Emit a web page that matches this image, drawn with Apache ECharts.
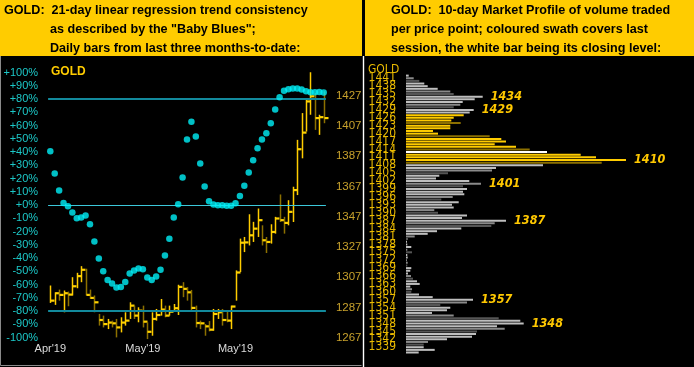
<!DOCTYPE html>
<html><head><meta charset="utf-8">
<script src="https://cdn.jsdelivr.net/npm/echarts@6/dist/echarts.min.js"></script>
<style>html,body{margin:0;padding:0;background:#000;}#c{width:694px;height:367px;}</style>
</head><body><div id="c"></div>
<script>
// ---- Left panel: 21-day linear regression trend consistency ("Baby Blues"), in %
const trendPct = [40.8, 23.9, 11.1, 1.7, -0.8, -5.5, -9.8, -9.3, -7.8, -14.3,
  -27.4, -40.2, -49.8, -56.4, -59.1, -62.1, -61.7, -57.9, -51.5, -49.3,
  -47.8, -48.3, -54.6, -56.4, -53.8, -48.8, -38, -25.4, -9.3, 0.8,
  20.9, 49.6, 62.9, 51.8, 31.5, 14.1, 3, 0.5, 0, 0,
  -0.5, -0.5, 1.5, 7, 14.6, 24.7, 34, 43, 49.6, 54.3,
  61.9, 72.2, 81.5, 86.3, 87.5, 88, 88, 87.3, 86, 85.3,
  85.3, 85.5, 85];
// ---- Left panel: daily gold bars (high / low / close)
const barHigh = [1301.5, 1297, 1298.8, 1298.2, 1297.5, 1307, 1309.9, 1314.3, 1312.6, 1298.8,
  1294.9, 1282.7, 1281.6, 1279.4, 1278.3, 1279.4, 1280.5, 1283.8, 1290.4, 1288.2,
  1287.1, 1288.2, 1277.2, 1283.8, 1286, 1292.6, 1288.2, 1288.2, 1289.3, 1302,
  1303.7, 1300.4, 1298.6, 1288.2, 1278.3, 1276, 1278, 1286, 1286, 1286,
  1284.9, 1288.2, 1311.5, 1332.5, 1333.6, 1348.6, 1343.6, 1352.4, 1341.3, 1333.6,
  1342, 1346.9, 1361.7, 1346.9, 1357.9, 1366.8, 1397.8, 1415.5, 1425.4, 1442.5,
  1428.8, 1414.4, 1429.9];
const barLow = [1290, 1288.7, 1291.5, 1283.8, 1287.8, 1294.9, 1299.7, 1303.7, 1294.9, 1292.6,
  1283.8, 1275, 1273.8, 1272.7, 1273.8, 1267.2, 1270.5, 1275, 1279.4, 1279.4,
  1277.2, 1273.8, 1266.1, 1268.3, 1278.3, 1281.6, 1280.5, 1281.6, 1284.9, 1282,
  1293.8, 1291.5, 1284.9, 1273.8, 1272.7, 1268.3, 1271.2, 1271.6, 1279.4, 1275,
  1277.2, 1272.7, 1291.5, 1310.4, 1323.6, 1328, 1330.3, 1333.6, 1328, 1323,
  1329.2, 1335.8, 1343.5, 1335.8, 1341.3, 1343.5, 1361.3, 1385.6, 1403.3, 1414.4,
  1404.4, 1401.1, 1408.8];
const barClose = [1291.5, 1296.4, 1295.3, 1296.4, 1295.5, 1301, 1307.7, 1311.9, 1295.3, 1293.3,
  1290.4, 1278.7, 1276, 1277, 1276.5, 1273.8, 1277, 1278.3, 1288.2, 1281.6,
  1284.9, 1277.6, 1270.9, 1279.4, 1282, 1285.6, 1281.6, 1284.2, 1286.5, 1300.6,
  1299.3, 1297, 1286.7, 1276.7, 1276.5, 1274.5, 1272.3, 1282.7, 1283.8, 1278.7,
  1278.3, 1287.6, 1310.1, 1329.8, 1330, 1334.7, 1339.1, 1344.7, 1331.4, 1330.3,
  1336.9, 1345.8, 1344.7, 1342.9, 1350.2, 1364.6, 1391.6, 1402.6, 1423.2, 1426.6,
  1412.2, 1412.8, 1412.2];
const xTickIndex = [0, 21, 42];
const xTickLabels = ["Apr'19", "May'19", "May'19"];
const priceAxisMin = 1267, priceAxisStep = 20, priceAxisMax = 1442.2;

// ---- Right panel: 10-day market profile (volume per price point)
const profilePrices = [1442, 1441, 1440, 1439, 1438, 1437, 1436, 1435, 1434, 1433,
  1432, 1431, 1430, 1429, 1428, 1427, 1426, 1425, 1424, 1423,
  1422, 1421, 1420, 1419, 1418, 1417, 1416, 1415, 1414, 1413,
  1412, 1411, 1410, 1409, 1408, 1407, 1406, 1405, 1404, 1403,
  1402, 1401, 1400, 1399, 1398, 1397, 1396, 1395, 1394, 1393,
  1392, 1391, 1390, 1389, 1388, 1387, 1386, 1385, 1384, 1383,
  1382, 1381, 1380, 1379, 1378, 1377, 1376, 1375, 1374, 1373,
  1372, 1371, 1370, 1369, 1368, 1367, 1366, 1365, 1364, 1363,
  1362, 1361, 1360, 1359, 1358, 1357, 1356, 1355, 1354, 1353,
  1352, 1351, 1350, 1349, 1348, 1347, 1346, 1345, 1344, 1343,
  1342, 1341, 1340, 1339, 1338, 1337];
const profileVolume = [2.7, 7.7, 13.3, 18.3, 21.7, 31.7, 44.3, 47.7, 76.7, 68.7,
  56.7, 54.3, 47.7, 67.7, 63.7, 57.7, 47.7, 45.3, 54.7, 44.3,
  44.3, 27, 32, 83.7, 95.3, 100, 88.7, 110, 123.7, 141,
  174.7, 190, 220, 195.7, 137, 90, 86, 42, 33.3, 30,
  63.3, 75, 57, 61, 57, 58.3, 46.7, 35.3, 52.7, 46,
  47.7, 28.3, 32, 61, 56, 100, 88.7, 85.3, 55.3, 31,
  21.7, 8.7, 2, 1, 1.3, 5.3, 1.3, 6, 1.3, 1.7,
  0.7, 1.7, 1.3, 5.3, 4.3, 2, 5, 7, 11, 13.7,
  4.3, 6, 5.3, 13, 26.7, 67, 61, 34.3, 44.3, 41,
  26, 47.7, 92.7, 114.3, 117.7, 91, 98.7, 71, 70, 66,
  41, 22, 17.7, 17.7, 28.7, 12.7];
const profileLabelTop = 1441, profileLabelStep = 3;
const profileCallouts = [1434, 1429, 1410, 1401, 1387, 1357, 1348];
const swathHigh = 1427, swathLow = 1409, closingLevel = 1413;

// ---- build
const chart = echarts.init(document.getElementById('c'), null, {renderer: 'canvas'});
const ohlcRows = barHigh.map((h, i) => [i, h, barLow[i], barClose[i], i === 0 ? 1 : (barClose[i] >= barClose[i - 1] ? 1 : -1)]);
const narrow = "'Liberation Sans Narrow', 'DejaVu Sans Condensed', 'Liberation Sans', sans-serif";
const arial = "'Liberation Sans', Arial, sans-serif";
const tickShadow = {textShadowColor: '#5A4600', textShadowOffsetX: -1, textShadowOffsetY: 1, textShadowBlur: 0};

function profileColor(p) {
  if (p === closingLevel) return '#FFFFFF';
  if (p <= swathHigh && p >= swathLow) return (p % 5 === 4) ? '#8C7000' : '#FFCC00';
  const m = p % 5;
  if (m === 0) return '#555555';
  if (m === 1) return '#8A8A8A';
  return '#BEBEBE';
}
const lowestPrice = profilePrices[profilePrices.length - 1];
const isPriceTick = p => p <= profileLabelTop && p >= lowestPrice && (profileLabelTop - p) % profileLabelStep === 0;
const profileData = profilePrices.map((p, i) => {
  const item = {value: profileVolume[i], itemStyle: {color: profileColor(p)}};
  if (profileCallouts.includes(p)) {
    item.label = Object.assign({show: true, position: 'right', distance: 8, formatter: String(p),
      color: '#FFC800', fontStyle: 'italic', fontWeight: 'bold', fontSize: 12.5, fontFamily: narrow}, tickShadow);
  }
  return item;
});
// price tick labels of the profile axis, carried by zero-length bars at the axis edge
const profileTickData = profilePrices.map(p => isPriceTick(p) ? {value: 0, name: String(p)} : null);

const titleFont = 'bold 12.6px ' + arial;
const txt = (text, x, y, font, fill, extra) => ({type: 'text', silent: true,
  style: Object.assign({text, x, y, font, fill, verticalAlign: 'middle', textVerticalAlign: 'middle'}, extra || {})});
const option = {
  backgroundColor: '#000000',
  animation: false,
  grid: [
    {left: 48.1, top: 72.7, width: 277.8, height: 265},
    {left: 406, top: 74.3, width: 280, height: profilePrices.length * 2.637}
  ],
  xAxis: [
    {type: 'category', gridIndex: 0, data: trendPct.map((v, i) => String(i + 1)), boundaryGap: true,
      axisLine: {show: false}, axisTick: {show: false}, splitLine: {show: false},
      axisLabel: {interval: (idx) => xTickIndex.includes(idx),
        formatter: (v, idx) => { const k = xTickIndex.indexOf(idx); return k >= 0 ? xTickLabels[k] : ''; },
        color: '#DCDCDC', fontSize: 11, fontFamily: arial, margin: 6}},
    {type: 'value', gridIndex: 1, min: 0, max: 280, show: false}
  ],
  yAxis: [
    {type: 'value', gridIndex: 0, min: -100, max: 100, interval: 10, position: 'left',
      axisLine: {show: false}, axisTick: {show: false}, splitLine: {show: false},
      axisLabel: {formatter: v => (v >= 0 ? '+' : '') + v + '%', color: '#1CC8C8', fontSize: 11, fontFamily: arial, margin: 10}},
    {type: 'value', gridIndex: 0, min: priceAxisMin, max: priceAxisMax, interval: priceAxisStep, position: 'right',
      axisLine: {show: false}, axisTick: {show: false}, splitLine: {show: false},
      axisLabel: {showMaxLabel: false, formatter: v => String(Math.round(v)), color: '#C8A22C', fontSize: 11.5, fontFamily: arial, margin: 10}},
    {type: 'category', gridIndex: 1, data: profilePrices.map(String), inverse: true,
      axisLine: {show: false}, axisTick: {show: false}, splitLine: {show: false}, axisLabel: {show: false}}
  ],
  series: [
    {type: 'custom', xAxisIndex: 0, yAxisIndex: 1, data: ohlcRows, encode: {x: 0, y: [1, 2, 3]},
      renderItem: (params, api) => {
        const x = api.value(0);
        const hi = api.coord([x, api.value(1)]);
        const lo = api.coord([x, api.value(2)]);
        const cl = api.coord([x, api.value(3)]);
        const up = api.value(4) > 0;
        const px = Math.round(hi[0]) + 0.5;
        return {type: 'group', children: [
          {type: 'line', shape: {x1: px, y1: hi[1], x2: px, y2: lo[1]}, style: {stroke: up ? '#FFCC00' : '#8C7000', lineWidth: 1.5}},
          {type: 'line', shape: {x1: px, y1: cl[1], x2: px + 4, y2: cl[1]}, style: {stroke: '#FFD200', lineWidth: 2.2}}
        ]};
      }},
    {type: 'scatter', xAxisIndex: 0, yAxisIndex: 0, data: trendPct, symbolSize: 6.5,
      itemStyle: {color: '#00F0F8'}, z: 5,
      markLine: {silent: true, symbol: 'none', label: {show: false},
        data: [
          {yAxis: 80, lineStyle: {color: '#128A9C', width: 2, type: 'solid'}},
          {yAxis: -80, lineStyle: {color: '#128A9C', width: 2, type: 'solid'}},
          {yAxis: 0, lineStyle: {color: '#3CC8DA', width: 1, type: 'solid'}}
        ]}},
    {type: 'bar', xAxisIndex: 1, yAxisIndex: 2, data: profileData, barWidth: 2, barGap: '-100%'},
    {type: 'bar', xAxisIndex: 1, yAxisIndex: 2, data: profileTickData, barWidth: 2, barGap: '-100%', silent: true,
      itemStyle: {color: 'rgba(0,0,0,0)'},
      label: Object.assign({show: true, position: 'left', distance: 10, formatter: pr => pr.name,
        color: '#EBBB00', fontSize: 12, fontFamily: narrow}, tickShadow)}
  ],
  graphic: [
    {type: 'rect', silent: true, shape: {x: 0, y: 0, width: 362, height: 56}, style: {fill: '#FFCC00'}},
    {type: 'rect', silent: true, shape: {x: 365, y: 0, width: 329, height: 56}, style: {fill: '#FFCC00'}},
    {type: 'polyline', silent: true, shape: {points: [[0.5, 56], [0.5, 365.5], [361.5, 365.5]]}, style: {stroke: '#8A8A8A', lineWidth: 1, fill: null}},
    {type: 'line', silent: true, shape: {x1: 363.5, y1: 56, x2: 363.5, y2: 367}, style: {stroke: '#FFFFFF', lineWidth: 1.4}},
    txt('GOLD:  21-day linear regression trend consistency', 4, 10.5, titleFont, '#000'),
    txt('as described by the "Baby Blues";', 50, 30, titleFont, '#000'),
    txt('Daily bars from last three months-to-date:', 50, 49, titleFont, '#000'),
    txt('GOLD:  10-day Market Profile of volume traded', 391, 11, titleFont, '#000'),
    txt('per price point; coloured swath covers last', 391, 30, titleFont, '#000'),
    txt('session, the white bar being its closing level:', 391, 48.5, titleFont, '#000'),
    txt('GOLD', 51, 72, 'bold 12px ' + arial, '#FFCC00'),
    txt('GOLD', 368, 69.5, '12px ' + narrow, '#EBBB00', tickShadow)
  ]
};
chart.setOption(option);
</script></body></html>
